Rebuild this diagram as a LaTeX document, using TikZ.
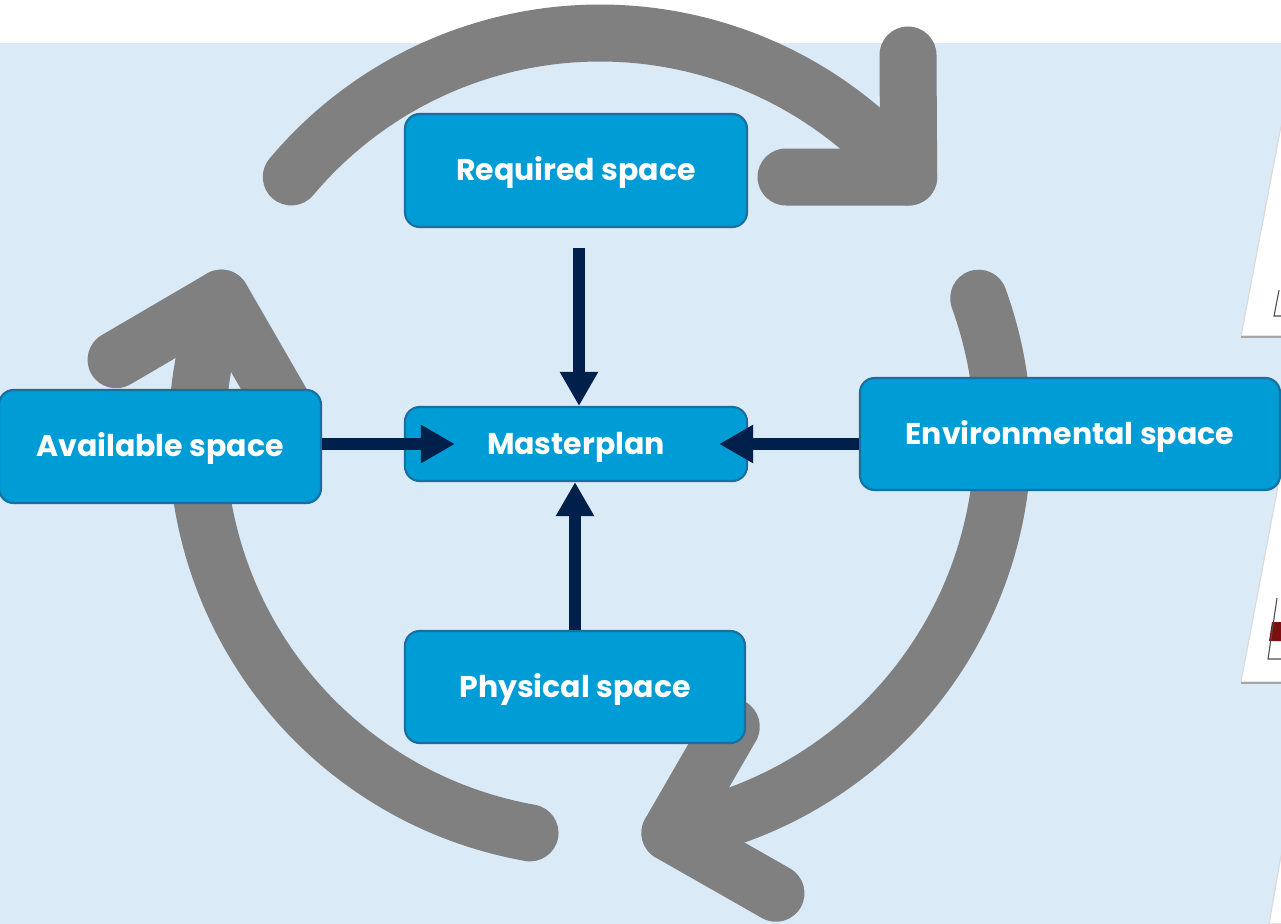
\documentclass[tikz,border=0pt]{standalone}
\usepackage{fontspec}
\setmainfont{Poppins}
\usetikzlibrary{arrows.meta,calc}
\definecolor{bgblue}{HTML}{DAEAF7}
\definecolor{boxblue}{HTML}{009CD6}
\definecolor{boxedge}{HTML}{17709F}
\definecolor{navy}{HTML}{00204C}
\definecolor{cyclegray}{HTML}{808080}
\definecolor{thumbred}{HTML}{7A1010}

\begin{document}
\begin{tikzpicture}[x=0.75pt,y=-0.75pt,
  spacebox/.style={draw=boxedge, line width=1.6pt, fill=boxblue, rounded corners=11pt,
    text=white, font=\bfseries\fontsize{22.5}{27}\selectfont, inner sep=0pt,
    text height=15.6pt, text depth=0pt},
  cyclearrow/.style={draw=cyclegray, line width=42.75pt, line cap=round, line join=round},
  flow/.style={draw=navy, line width=9.4pt, -{Triangle[length=25.5pt,width=27pt]}},
  thumb/.style={fill=white, draw=black!15, line width=0.8pt}]
\useasboundingbox (0,0) rectangle (1281,924);
\fill[white] (0,0) rectangle (1281,924);
\fill[bgblue] (0,43) rectangle (1281,924);

% slanted thumbnails along the right edge
\filldraw[thumb] (1281,126) -- (1241,336) -- (1281,336);
\draw[black!35, line width=2pt] (1241,337) -- (1281,337);
\draw[black!70, line width=0.8pt] (1279,290) -- (1274,316) -- (1281,316);
\filldraw[thumb] (1281,470) -- (1241,682) -- (1281,682);
\draw[black!35, line width=2pt] (1241,683) -- (1281,683);
\fill[thumbred] (1272,622) -- (1269,641) -- (1281,641) -- (1281,622) -- cycle;
\draw[black!70, line width=0.8pt] (1277,598) -- (1268,659) -- (1281,659);
\filldraw[thumb] (1281,856) -- (1269,924) -- (1281,924);

% three curved arrows forming a cycle around the centre
\foreach \r in {0,-120,120}{
  \begin{scope}[rotate around={\r:(600,436)}]
    \draw[cyclearrow] plot[domain=-140:-40, samples=90] ({600+403*cos(\x)},{436+403*sin(\x)});
    \draw[cyclearrow] (908,55) -- (908.7,177) -- (786,177);
  \end{scope}
}

% the five space boxes
\node[spacebox, minimum width=256.5pt, minimum height=84.75pt] (req) at (576,170.5) {Required space};
\node[spacebox, minimum width=256.5pt, minimum height=55.5pt] (mp) at (576,444) {Masterplan};
\node[spacebox, minimum width=241.5pt, minimum height=84.75pt] (avail) at (160,446.5) {Available space};
\node[spacebox, minimum width=315pt, minimum height=84pt] (env) at (1070,434) {Environmental space};
\node[spacebox, minimum width=255pt, minimum height=84pt] (phys) at (575,687) {Physical space};

% flows into the masterplan
\draw[flow] ($(req.south)+(3,20)$) -- ($(mp.north)+(3,0)$);
\draw[flow] (avail.east |- mp.west) -- ($(mp.west)+(51,0)$);
\draw[flow] (env.west |- mp.east) -- ($(mp.east)+(-29,0)$);
\draw[flow] (phys.north) -- (phys.north |- mp.south);
\end{tikzpicture}
\end{document}
